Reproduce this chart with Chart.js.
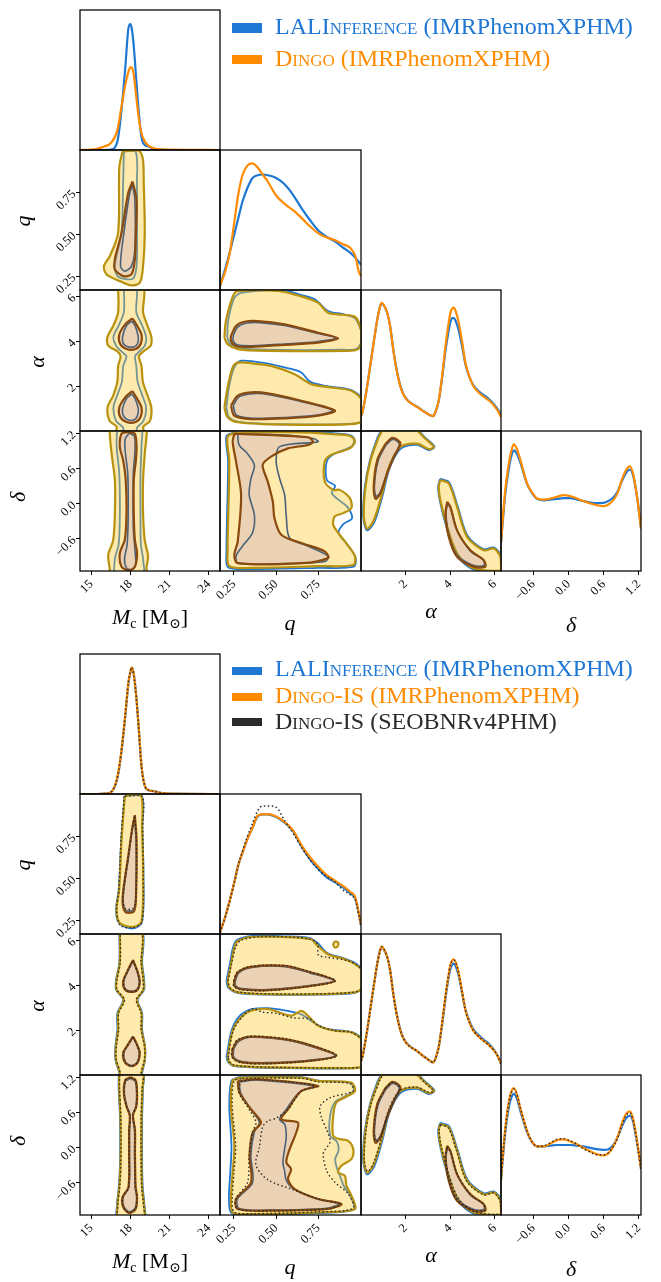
<!DOCTYPE html>
<html>
<head>
<meta charset="utf-8">
<script src="https://cdn.jsdelivr.net/npm/chart.js@4.4.1/dist/chart.umd.min.js"></script>
<style>
  body { margin: 0; background: #fff; width: 661px; height: 1282px; position: relative; overflow: hidden;
         font-family: "Liberation Serif", "DejaVu Serif", serif; }
  canvas { position: absolute; }
  .lab { position: absolute; font-size: 22px; line-height: 22px; white-space: nowrap; color: #000; }
  .lab i { font-style: italic; }
  .lab sub { font-size: 14px; vertical-align: -4px; line-height: 0; }
  .rot { transform: translate(-50%, -50%) rotate(-90deg); }
  .hc { transform: translateX(-50%); }
  .leg { position: absolute; left: 275px; font-size: 24px; line-height: 24px; white-space: nowrap; }
  .sc { font-variant: small-caps; }
  .patch { position: absolute; left: 232px; width: 30px; }
</style>
</head>
<body>
<script>
// ---- tick values / labels ----
const mcTicks = [15, 18, 21, 24];
const mcTickLabels = ['15', '18', '21', '24'];
const qTicks = [0.25, 0.5, 0.75];
const qTickLabels = ['0.25', '0.50', '0.75'];
const alphaTicks = [2, 4, 6];
const alphaTickLabels = ['2', '4', '6'];
const deltaTicks = [-0.6, 0, 0.6, 1.2];
const deltaTickLabels = ['\u22120.6', '0.0', '0.6', '1.2'];

// ---- 1D marginals (height as fraction of panel) ----
const mcGrid = [14.1, 15.0, 15.5, 16.0, 16.5, 17.0, 17.3, 17.6, 17.85, 18.0, 18.1, 18.25, 18.45, 18.65, 18.85, 19.1, 19.4, 19.8, 20.3, 21.0, 24.9];
const mcLalTop   = [0, 0, 0, 0, 0.003, 0.06, 0.27, 0.58, 0.87, 0.9, 0.87, 0.75, 0.5, 0.26, 0.09, 0.035, 0.025, 0.008, 0.002, 0, 0];
const mcDingoTop = [0, 0.002, 0.01, 0.025, 0.05, 0.14, 0.3, 0.46, 0.56, 0.59, 0.59, 0.54, 0.38, 0.22, 0.12, 0.06, 0.03, 0.012, 0.005, 0.002, 0];
const mcLalBot   = [0, 0, 0, 0.002, 0.012, 0.11, 0.29, 0.55, 0.79, 0.87, 0.9, 0.86, 0.7, 0.45, 0.2, 0.06, 0.027, 0.02, 0.008, 0.002, 0];
const mcDingoBot = [0, 0, 0, 0.002, 0.013, 0.12, 0.3, 0.56, 0.8, 0.875, 0.905, 0.86, 0.69, 0.46, 0.2, 0.06, 0.028, 0.02, 0.008, 0.002, 0];
const mcSeobBot  = [0, 0, 0, 0.002, 0.012, 0.12, 0.3, 0.56, 0.8, 0.88, 0.905, 0.85, 0.69, 0.45, 0.19, 0.06, 0.027, 0.019, 0.008, 0.002, 0];

const qGrid = [0.167, 0.2, 0.225, 0.25, 0.275, 0.3, 0.33, 0.36, 0.39, 0.42, 0.45, 0.5, 0.55, 0.6, 0.65, 0.7, 0.75, 0.8, 0.85, 0.9, 0.94, 0.97, 0.99, 1.003];
const qLalTop   = [0.03, 0.16, 0.27, 0.39, 0.51, 0.63, 0.73, 0.8, 0.82, 0.825, 0.82, 0.8, 0.755, 0.68, 0.585, 0.5, 0.425, 0.38, 0.345, 0.3, 0.265, 0.23, 0.2, 0.18];
const qDingoTop = [0.03, 0.14, 0.265, 0.47, 0.68, 0.82, 0.89, 0.905, 0.875, 0.825, 0.775, 0.675, 0.615, 0.57, 0.515, 0.455, 0.405, 0.375, 0.355, 0.325, 0.3, 0.24, 0.13, 0.1];
const qLalBot   = [0.01, 0.13, 0.24, 0.36, 0.49, 0.58, 0.68, 0.76, 0.84, 0.855, 0.855, 0.835, 0.795, 0.735, 0.625, 0.535, 0.465, 0.405, 0.37, 0.33, 0.29, 0.25, 0.14, 0.06];
const qDingoBot = [0.01, 0.13, 0.24, 0.36, 0.49, 0.58, 0.68, 0.76, 0.845, 0.855, 0.856, 0.84, 0.8, 0.74, 0.635, 0.55, 0.48, 0.42, 0.38, 0.34, 0.3, 0.26, 0.15, 0.065];
const qSeobBot  = [0.01, 0.13, 0.24, 0.36, 0.49, 0.59, 0.7, 0.79, 0.88, 0.915, 0.915, 0.905, 0.81, 0.72, 0.62, 0.53, 0.46, 0.41, 0.37, 0.31, 0.28, 0.24, 0.14, 0.06];

const alphaGrid = [0, 0.05, 0.25, 0.43, 0.6, 0.73, 0.85, 0.92, 1.0, 1.18, 1.3, 1.47, 1.6, 1.77, 1.9, 2.07, 2.3, 2.52, 2.75, 2.97, 3.1, 3.24, 3.35, 3.49, 3.65, 3.79, 3.9, 4.01, 4.1, 4.16, 4.25, 4.39, 4.55, 4.69, 4.9, 5.06, 5.3, 5.51, 5.75, 5.96, 6.15, 6.283];
const alphaLalTop   = [0.11, 0.124, 0.29, 0.48, 0.66, 0.79, 0.88, 0.905, 0.897, 0.835, 0.75, 0.555, 0.435, 0.318, 0.263, 0.222, 0.192, 0.172, 0.146, 0.124, 0.112, 0.105, 0.14, 0.215, 0.39, 0.57, 0.68, 0.77, 0.8, 0.8, 0.78, 0.71, 0.59, 0.47, 0.37, 0.32, 0.28, 0.255, 0.225, 0.19, 0.15, 0.11];
const alphaDingoTop = [0.11, 0.124, 0.29, 0.48, 0.66, 0.79, 0.88, 0.909, 0.9, 0.837, 0.75, 0.552, 0.43, 0.314, 0.26, 0.219, 0.19, 0.171, 0.145, 0.124, 0.112, 0.105, 0.14, 0.219, 0.4, 0.6, 0.73, 0.836, 0.87, 0.876, 0.85, 0.766, 0.62, 0.48, 0.37, 0.314, 0.27, 0.243, 0.215, 0.183, 0.14, 0.1];
const alphaLalBot   = [0.1, 0.12, 0.29, 0.48, 0.66, 0.79, 0.88, 0.905, 0.897, 0.835, 0.75, 0.555, 0.435, 0.318, 0.263, 0.222, 0.192, 0.17, 0.14, 0.115, 0.1, 0.09, 0.12, 0.2, 0.37, 0.54, 0.66, 0.75, 0.785, 0.79, 0.77, 0.7, 0.57, 0.46, 0.37, 0.32, 0.28, 0.25, 0.22, 0.18, 0.13, 0.08];
const alphaDingoBot = [0.1, 0.12, 0.29, 0.48, 0.66, 0.79, 0.88, 0.91, 0.9, 0.837, 0.75, 0.552, 0.43, 0.314, 0.26, 0.219, 0.19, 0.17, 0.14, 0.115, 0.1, 0.09, 0.12, 0.2, 0.38, 0.56, 0.68, 0.78, 0.815, 0.82, 0.8, 0.72, 0.58, 0.46, 0.36, 0.31, 0.27, 0.24, 0.21, 0.175, 0.13, 0.08];
const alphaSeobBot  = [0.1, 0.12, 0.29, 0.48, 0.66, 0.79, 0.88, 0.91, 0.9, 0.835, 0.75, 0.55, 0.43, 0.314, 0.26, 0.219, 0.19, 0.17, 0.14, 0.115, 0.1, 0.09, 0.12, 0.2, 0.38, 0.56, 0.68, 0.78, 0.81, 0.815, 0.8, 0.72, 0.58, 0.46, 0.36, 0.31, 0.27, 0.24, 0.21, 0.175, 0.13, 0.08];

const deltaGrid = [-1.153, -1.133, -1.08, -1.02, -0.97, -0.935, -0.88, -0.82, -0.707, -0.62, -0.537, -0.42, -0.31, -0.2, -0.085, 0.03, 0.143, 0.25, 0.369, 0.48, 0.595, 0.68, 0.765, 0.84, 0.908, 0.98, 1.05, 1.1, 1.134, 1.18, 1.237];
const deltaLalTop   = [0.2, 0.3, 0.55, 0.73, 0.83, 0.862, 0.835, 0.77, 0.62, 0.555, 0.515, 0.505, 0.51, 0.515, 0.52, 0.52, 0.51, 0.5, 0.49, 0.485, 0.487, 0.5, 0.525, 0.57, 0.64, 0.7, 0.725, 0.685, 0.62, 0.5, 0.31];
const deltaDingoTop = [0.2, 0.316, 0.58, 0.768, 0.87, 0.905, 0.87, 0.79, 0.625, 0.56, 0.518, 0.51, 0.518, 0.53, 0.542, 0.535, 0.518, 0.5, 0.483, 0.47, 0.463, 0.475, 0.506, 0.56, 0.649, 0.72, 0.748, 0.7, 0.625, 0.5, 0.3];
const deltaLalBot   = [0.25, 0.35, 0.59, 0.77, 0.845, 0.865, 0.83, 0.74, 0.59, 0.52, 0.49, 0.49, 0.495, 0.5, 0.5, 0.5, 0.495, 0.49, 0.48, 0.47, 0.465, 0.47, 0.5, 0.56, 0.63, 0.69, 0.71, 0.67, 0.6, 0.49, 0.33];
const deltaDingoBot = [0.25, 0.366, 0.62, 0.81, 0.89, 0.907, 0.86, 0.76, 0.6, 0.52, 0.49, 0.49, 0.51, 0.535, 0.54, 0.525, 0.505, 0.48, 0.455, 0.435, 0.425, 0.44, 0.49, 0.56, 0.65, 0.72, 0.74, 0.69, 0.62, 0.5, 0.33];
const deltaSeobBot  = [0.25, 0.36, 0.61, 0.8, 0.88, 0.9, 0.86, 0.76, 0.6, 0.52, 0.49, 0.495, 0.515, 0.54, 0.545, 0.53, 0.505, 0.475, 0.45, 0.43, 0.43, 0.445, 0.49, 0.55, 0.64, 0.71, 0.73, 0.68, 0.61, 0.49, 0.33];

// ---- 2D credible contours (x, y in data units) ----
// top figure
const mcqGold = [[17.4,0.995],[17.15,0.9],[17.06,0.51],[16.43,0.37],[15.97,0.31],[16.18,0.26],[17.19,0.22],[18.08,0.195],[18.72,0.21],[18.97,0.31],[19.1,0.51],[19.02,0.81],[18.95,0.95],[18.6,1.0]];
const mcqBrown = [[18.16,0.815],[18.47,0.707],[18.42,0.508],[18.34,0.35],[18.08,0.26],[17.44,0.25],[16.81,0.29],[16.81,0.35],[17.32,0.508],[17.83,0.746]];
const mcqBlueOut = [[17.5,0.995],[17.44,0.8],[17.32,0.508],[16.81,0.31],[17.0,0.25],[17.44,0.235],[18.2,0.235],[18.47,0.31],[18.51,0.508],[18.5,0.8],[18.4,0.995]];
const mcqBlueIn = [[18.16,0.795],[18.34,0.707],[18.34,0.41],[18.08,0.31],[17.57,0.28],[17.24,0.31],[17.5,0.508],[17.95,0.746]];

const mcaGold = [[17.06,6.4],[17.06,5.3],[16.7,4.7],[16.25,4.2],[16.3,3.8],[17.0,3.55],[17.25,3.33],[17.06,2.9],[17.0,2.2],[16.7,1.6],[16.25,1.05],[16.4,0.45],[16.94,0.2],[16.94,-0.1],[18.97,-0.1],[19.0,0.2],[19.5,0.45],[19.6,1.05],[19.3,1.6],[18.95,2.2],[18.85,2.9],[18.65,3.33],[19.0,3.55],[19.55,3.8],[19.6,4.2],[19.3,4.7],[18.97,5.3],[18.97,6.4]];
const mcaBrownUp = [[18.15,5.02],[18.45,4.75],[18.85,4.3],[18.8,3.9],[18.4,3.65],[17.7,3.65],[17.2,3.9],[17.15,4.3],[17.6,4.75]];
const mcaBrownLow = [[18.15,1.78],[18.45,1.5],[18.85,1.05],[18.8,0.65],[18.4,0.4],[17.7,0.4],[17.2,0.65],[17.15,1.05],[17.6,1.5]];
const mcaBlueOut = [[17.5,6.4],[17.5,5.3],[17.1,4.7],[16.7,4.2],[16.9,3.8],[17.4,3.5],[17.7,3.33],[17.45,2.9],[17.35,2.2],[17.0,1.6],[16.7,1.05],[16.9,0.45],[17.45,0.15],[17.45,-0.1],[18.45,-0.1],[18.5,0.15],[19.0,0.45],[19.2,1.05],[18.9,1.6],[18.55,2.2],[18.45,2.9],[18.35,3.33],[18.6,3.5],[19.1,3.8],[19.2,4.2],[18.9,4.7],[18.45,5.3],[18.45,6.4]];
const mcaBlueInUp = [[18.1,4.9],[18.35,4.7],[18.6,4.2],[18.55,3.9],[18.3,3.75],[17.8,3.75],[17.45,3.9],[17.4,4.2],[17.7,4.7]];
const mcaBlueInLow = [[18.1,1.65],[18.35,1.45],[18.6,1.0],[18.55,0.7],[18.3,0.5],[17.8,0.5],[17.45,0.7],[17.4,1.0],[17.7,1.45]];

const mcdGold = [[16.4,1.3],[16.43,1.15],[16.56,0.85],[16.81,0.4],[16.81,-0.17],[16.68,-0.63],[16.3,-0.88],[16.43,-1.13],[16.5,-1.25],[19.2,-1.25],[19.23,-1.1],[19.35,-0.9],[19.1,-0.63],[18.97,-0.17],[18.97,0.4],[19.1,0.85],[19.23,1.15],[19.2,1.3]];
const mcdBrown = [[17.8,1.22],[17.32,1.19],[17.19,0.96],[17.44,0.74],[17.64,0.4],[17.7,-0.17],[17.57,-0.62],[17.19,-0.85],[17.32,-1.08],[17.9,-1.14],[18.34,-1.08],[18.51,-0.85],[18.34,-0.62],[18.26,-0.17],[18.26,0.4],[18.42,0.74],[18.47,0.96],[18.34,1.19]];
const mcdBlueOut = [[17.0,1.3],[16.94,1.0],[17.15,0.5],[17.19,-0.2],[17.1,-0.7],[16.81,-0.95],[16.9,-1.25],[18.95,-1.25],[18.97,-0.95],[18.8,-0.7],[18.77,-0.2],[18.77,0.5],[18.85,1.0],[18.8,1.3]];
const mcdBlueIn = [[17.9,1.2],[17.6,1.1],[17.6,0.9],[17.8,0.5],[17.83,-0.2],[17.75,-0.7],[17.55,-0.95],[17.7,-1.1],[18.1,-1.13],[18.4,-1.05],[18.35,-0.8],[18.22,-0.4],[18.22,0.5],[18.35,0.9],[18.3,1.15]];

const qaGoldUp = [[0.193,4.16],[0.202,4.9],[0.242,5.98],[0.272,6.24],[0.51,6.24],[0.649,6.0],[0.748,5.72],[0.808,5.27],[0.867,5.2],[0.957,5.12],[0.986,4.9],[1.01,4.16],[0.986,3.65],[0.907,3.57],[0.45,3.57],[0.272,3.65],[0.212,3.87]];
const qaBrownUp = [[0.232,4.24],[0.262,4.68],[0.312,4.87],[0.391,4.9],[0.55,4.75],[0.748,4.38],[0.867,4.13],[0.748,3.94],[0.55,3.84],[0.351,3.75],[0.262,3.79],[0.232,4.01]];
const qaBlueOutUp = [[0.21,4.16],[0.215,4.9],[0.25,5.9],[0.29,6.15],[0.53,6.3],[0.63,6.1],[0.729,5.87],[0.808,5.35],[0.9,5.2],[0.97,5.0],[1.01,4.16],[0.98,3.68],[0.9,3.62],[0.45,3.62],[0.28,3.7],[0.225,3.9]];
const qaBlueInUp = [[0.245,4.24],[0.27,4.62],[0.32,4.8],[0.4,4.83],[0.55,4.7],[0.74,4.36],[0.855,4.15],[0.74,3.98],[0.55,3.88],[0.36,3.8],[0.27,3.84],[0.245,4.02]];
const qaGoldLow = [[0.193,1.05],[0.212,1.94],[0.242,2.83],[0.272,3.05],[0.391,2.98],[0.47,2.9],[0.61,2.53],[0.708,2.09],[0.827,1.94],[0.946,1.79],[1.01,1.35],[1.01,0.46],[0.946,0.31],[0.55,0.28],[0.272,0.39],[0.212,0.61]];
const qaBrownLow = [[0.232,1.13],[0.272,1.57],[0.351,1.72],[0.45,1.68],[0.649,1.35],[0.848,0.91],[0.748,0.68],[0.55,0.56],[0.351,0.53],[0.252,0.68]];
const qaBlueOutLow = [[0.205,1.05],[0.22,1.94],[0.25,2.8],[0.292,3.13],[0.45,3.0],[0.55,2.83],[0.649,2.61],[0.7,2.2],[0.8,2.0],[0.946,1.82],[1.01,1.4],[1.01,0.46],[0.946,0.33],[0.55,0.3],[0.28,0.41],[0.22,0.62]];
const qaBlueInLow = [[0.245,1.13],[0.28,1.52],[0.36,1.66],[0.45,1.63],[0.64,1.33],[0.835,0.92],[0.74,0.71],[0.55,0.6],[0.36,0.57],[0.265,0.7]];

const qdGold = [[0.272,1.215],[0.649,1.215],[0.907,1.17],[0.946,1.14],[0.967,1.055],[0.937,0.94],[0.827,0.83],[0.788,0.715],[0.788,0.374],[0.838,0.232],[0.877,0.232],[0.937,0.09],[0.946,-0.08],[0.897,-0.165],[0.848,-0.22],[0.838,-0.36],[0.867,-0.5],[0.917,-0.68],[0.967,-0.9],[0.957,-1.05],[0.748,-1.07],[0.351,-1.1],[0.222,-1.07],[0.212,-0.82],[0.222,0.715],[0.212,1.14]];
const qdBrown = [[0.252,1.19],[0.689,1.13],[0.718,1.055],[0.689,0.998],[0.57,0.94],[0.47,0.8],[0.42,0.658],[0.45,0.374],[0.48,0.033],[0.49,-0.25],[0.53,-0.534],[0.649,-0.676],[0.788,-0.818],[0.808,-0.93],[0.649,-1.02],[0.272,-1.02],[0.252,-0.88],[0.272,-0.65],[0.292,0.147],[0.262,0.715],[0.242,1.055]];
const qdBlueOut = [[0.26,1.22],[0.65,1.225],[0.92,1.18],[0.96,1.12],[0.95,0.98],[0.84,0.84],[0.8,0.72],[0.8,0.4],[0.85,0.3],[0.83,0.18],[0.87,0.06],[0.92,-0.05],[0.95,-0.25],[0.9,-0.35],[0.87,-0.5],[0.92,-0.7],[0.97,-0.92],[0.96,-1.08],[0.75,-1.1],[0.35,-1.12],[0.215,-1.09],[0.205,-0.82],[0.215,0.715],[0.205,1.15]];
const qdBlueIn = [[0.272,1.19],[0.55,1.17],[0.72,1.11],[0.748,1.055],[0.52,0.97],[0.5,0.715],[0.52,0.43],[0.55,0.147],[0.56,-0.22],[0.58,-0.59],[0.689,-0.73],[0.808,-0.9],[0.79,-0.99],[0.5,-1.03],[0.272,-1.02],[0.262,-0.9],[0.3,-0.73],[0.36,-0.5],[0.371,-0.2],[0.34,0.147],[0.351,0.43],[0.371,0.65],[0.33,0.85],[0.28,1.0]];

const adGoldUp = [[0.8,1.14],[1.1,1.3],[2.3,1.3],[2.9,1.1],[3.27,0.964],[3.04,0.93],[2.52,1.02],[1.77,0.964],[1.25,0.62],[0.95,0.17],[0.57,-0.29],[0.28,-0.43],[0.13,-0.23],[0.2,0.28],[0.43,0.74]];
const adBrownUp = [[1.1,1.02],[1.4,1.12],[1.62,1.09],[1.77,1.02],[1.47,0.79],[1.17,0.51],[0.87,0.17],[0.65,0.08],[0.57,0.28],[0.73,0.74]];
const adBlueOutUp = [[0.75,1.14],[1.05,1.3],[2.3,1.31],[2.95,1.1],[3.3,0.97],[3.04,0.91],[2.52,1.0],[1.8,0.94],[1.28,0.6],[0.98,0.15],[0.6,-0.32],[0.27,-0.46],[0.1,-0.23],[0.17,0.28],[0.4,0.74]];
const adBlueInUp = [[1.12,1.0],[1.4,1.09],[1.6,1.07],[1.72,1.0],[1.44,0.78],[1.15,0.5],[0.87,0.2],[0.68,0.12],[0.6,0.28],[0.76,0.72]];
const adGoldLow = [[3.56,0.4],[3.94,0.34],[4.31,-0.06],[4.76,-0.57],[5.51,-0.8],[5.96,-0.77],[6.26,-0.91],[6.3,-1.14],[5.51,-1.14],[4.91,-1.08],[4.31,-0.85],[3.87,-0.4],[3.56,0.06],[3.49,0.29]];
const adBrownLow = [[3.87,0.03],[4.01,-0.06],[4.31,-0.46],[4.91,-0.8],[5.51,-0.97],[5.58,-1.08],[5.06,-1.08],[4.31,-0.91],[3.94,-0.57],[3.79,-0.17]];
const adBlueOutLow = [[3.55,0.42],[3.96,0.36],[4.34,-0.05],[4.78,-0.55],[5.5,-0.78],[5.96,-0.75],[6.3,-0.9],[6.32,-1.16],[5.5,-1.16],[4.9,-1.1],[4.28,-0.87],[3.84,-0.41],[3.53,0.06],[3.46,0.29]];
const adBlueInLow = [[3.89,0.0],[4.03,-0.08],[4.33,-0.47],[4.9,-0.81],[5.48,-0.96],[5.52,-1.06],[5.06,-1.06],[4.33,-0.89],[3.96,-0.56],[3.81,-0.17]];

// bottom figure
const mcqGoldB = [[17.57,0.99],[17.32,0.729],[17.14,0.431],[16.94,0.312],[17.19,0.233],[18.2,0.209],[18.85,0.242],[18.97,0.53],[18.9,0.8],[18.85,0.99],[18.2,1.0]];
const mcqBrownB = [[18.34,0.877],[18.47,0.729],[18.42,0.371],[18.25,0.3],[17.6,0.3],[17.4,0.38],[17.83,0.63],[18.16,0.808]];
const mcqBlueOutB = [[17.55,0.99],[17.3,0.73],[17.1,0.43],[16.9,0.31],[17.15,0.23],[18.2,0.2],[18.9,0.24],[19.0,0.53],[18.92,0.8],[18.88,0.99]];
const mcqBlueInB = [[18.3,0.86],[18.44,0.72],[18.4,0.38],[18.22,0.31],[17.62,0.31],[17.45,0.39],[17.86,0.63],[18.15,0.8]];
const mcqSeobOutB = [[17.52,0.99],[17.28,0.73],[17.12,0.43],[16.95,0.32],[17.2,0.22],[18.2,0.205],[18.88,0.24],[18.99,0.53],[18.93,0.8],[18.9,0.99]];
const mcqSeobInB = [[18.33,0.87],[18.46,0.73],[18.41,0.37],[18.2,0.32],[17.6,0.32],[17.42,0.39],[17.84,0.63],[18.16,0.8]];

const mcaGoldB = [[17.19,6.4],[17.19,5.0],[16.94,4.24],[16.94,3.8],[17.5,3.35],[17.06,2.76],[17.06,2.02],[16.89,1.28],[16.89,0.69],[17.19,0.1],[17.19,-0.1],[18.85,-0.1],[18.85,0.1],[19.1,0.69],[19.1,1.28],[18.85,2.02],[18.85,2.76],[18.5,3.35],[19.0,3.8],[19.0,4.24],[18.85,5.0],[18.85,6.4]];
const mcaBlueOutB = [[17.15,6.4],[17.15,5.0],[16.9,4.24],[16.9,3.8],[17.45,3.35],[17.0,2.76],[17.0,2.02],[16.85,1.28],[16.85,0.69],[17.15,0.1],[17.15,-0.1],[18.9,-0.1],[18.9,0.1],[19.12,0.69],[19.12,1.28],[18.9,2.02],[18.9,2.76],[18.55,3.35],[19.05,3.8],[19.05,4.24],[18.9,5.0],[18.9,6.4]];
const mcaSeobOutB = [[17.22,6.4],[17.22,5.0],[16.97,4.24],[16.97,3.8],[17.55,3.35],[17.1,2.76],[17.1,2.02],[16.92,1.28],[16.92,0.69],[17.22,0.1],[17.22,-0.1],[18.82,-0.1],[18.82,0.1],[19.07,0.69],[19.07,1.28],[18.82,2.02],[18.82,2.76],[18.45,3.35],[18.97,3.8],[18.97,4.24],[18.82,5.0],[18.82,6.4]];
const mcaBrownUpB = [[18.2,5.13],[18.55,4.6],[18.72,4.15],[18.55,3.8],[18.1,3.7],[17.6,3.8],[17.44,4.15],[17.75,4.6]];
const mcaBrownLowB = [[18.2,1.72],[18.55,1.3],[18.72,0.98],[18.55,0.55],[18.1,0.39],[17.6,0.55],[17.44,0.98],[17.75,1.3]];
const mcaBlueInUpB = [[18.2,5.08],[18.52,4.6],[18.68,4.15],[18.52,3.82],[18.1,3.73],[17.63,3.82],[17.48,4.15],[17.78,4.6]];
const mcaBlueInLowB = [[18.2,1.68],[18.52,1.3],[18.68,0.98],[18.52,0.57],[18.1,0.42],[17.63,0.57],[17.48,0.98],[17.78,1.3]];
const mcaSeobInUpB = [[18.2,5.1],[18.54,4.6],[18.71,4.15],[18.54,3.8],[18.1,3.71],[17.61,3.8],[17.46,4.15],[17.76,4.6]];
const mcaSeobInLowB = [[18.2,1.7],[18.54,1.3],[18.71,0.98],[18.54,0.56],[18.1,0.4],[17.61,0.56],[17.46,0.98],[17.76,1.3]];

const mcdGoldB = [[17.14,1.3],[17.14,1.0],[17.24,0.5],[17.24,-0.3],[17.14,-0.7],[17.02,-0.95],[17.1,-1.25],[19.0,-1.25],[19.02,-0.95],[18.9,-0.7],[18.85,-0.3],[18.85,0.5],[18.92,1.0],[18.92,1.3]];
const mcdBlueOutB = [[17.1,1.3],[17.1,1.0],[17.2,0.5],[17.2,-0.3],[17.1,-0.7],[16.98,-0.95],[17.05,-1.25],[19.05,-1.25],[19.06,-0.95],[18.95,-0.7],[18.9,-0.3],[18.9,0.5],[18.96,1.0],[18.96,1.3]];
const mcdSeobOutB = [[17.17,1.3],[17.17,1.0],[17.27,0.5],[17.27,-0.3],[17.17,-0.7],[17.05,-0.95],[17.12,-1.25],[18.97,-1.25],[18.99,-0.95],[18.87,-0.7],[18.82,-0.3],[18.82,0.5],[18.9,1.0],[18.9,1.3]];
const mcdBrownB = [[18.0,1.2],[17.6,1.15],[17.5,0.914],[17.7,0.7],[17.95,0.545],[17.9,0.3],[17.9,-0.1],[17.85,-0.676],[17.4,-0.846],[17.45,-1.02],[17.9,-1.12],[18.4,-1.05],[18.51,-0.846],[18.4,-0.676],[18.35,-0.1],[18.35,0.3],[18.2,0.545],[18.45,0.7],[18.51,0.914],[18.4,1.15]];
const mcdBlueInB = [[18.0,1.18],[17.63,1.13],[17.54,0.914],[17.73,0.7],[17.97,0.55],[17.93,0.3],[17.93,-0.1],[17.88,-0.68],[17.44,-0.85],[17.48,-1.0],[17.9,-1.1],[18.37,-1.03],[18.48,-0.85],[18.37,-0.68],[18.32,-0.1],[18.32,0.3],[18.18,0.55],[18.42,0.7],[18.48,0.914],[18.37,1.13]];
const mcdSeobInB = [[18.0,1.19],[17.61,1.14],[17.52,0.91],[17.71,0.7],[17.96,0.55],[17.91,0.3],[17.91,-0.1],[17.86,-0.68],[17.42,-0.85],[17.46,-1.01],[17.9,-1.11],[18.39,-1.04],[18.5,-0.85],[18.39,-0.68],[18.34,-0.1],[18.34,0.3],[18.19,0.55],[18.44,0.7],[18.5,0.91],[18.39,1.14]];

const qaGoldUpB = [[0.212,4.2],[0.232,4.94],[0.252,5.68],[0.272,5.97],[0.351,6.15],[0.55,6.15],[0.708,6.05],[0.738,5.82],[0.808,5.38],[0.907,5.16],[0.967,4.94],[1.01,4.64],[1.01,3.9],[0.967,3.68],[0.748,3.6],[0.45,3.6],[0.272,3.68],[0.222,3.9]];
const qaGoldIslandB = [[0.85,5.97],[0.868,5.9],[0.866,5.74],[0.85,5.68],[0.838,5.82]];
const qaBrownUpB = [[0.252,4.2],[0.272,4.57],[0.351,4.82],[0.55,4.86],[0.708,4.57],[0.848,4.2],[0.708,3.97],[0.45,3.78],[0.292,3.82],[0.252,3.97]];
const qaBlueOutUpB = [[0.205,4.2],[0.225,4.94],[0.245,5.7],[0.27,6.02],[0.36,6.2],[0.55,6.18],[0.7,6.1],[0.75,5.85],[0.8,5.45],[0.9,5.2],[0.97,4.98],[1.01,4.64],[1.01,3.9],[0.967,3.66],[0.748,3.58],[0.45,3.58],[0.27,3.66],[0.215,3.9]];
const qaSeobOutUpB = [[0.215,4.2],[0.235,4.94],[0.26,5.7],[0.29,6.0],[0.4,6.16],[0.6,6.14],[0.7,6.05],[0.745,5.85],[0.75,5.35],[0.8,5.25],[0.92,5.1],[0.98,4.9],[1.01,4.64],[1.01,3.9],[0.967,3.7],[0.748,3.62],[0.45,3.62],[0.275,3.7],[0.225,3.9]];
const qaBlueInUpB = [[0.258,4.2],[0.278,4.55],[0.355,4.79],[0.55,4.83],[0.7,4.55],[0.84,4.2],[0.7,3.99],[0.45,3.81],[0.295,3.85],[0.258,3.99]];
const qaSeobInUpB = [[0.248,4.2],[0.268,4.58],[0.35,4.84],[0.55,4.88],[0.71,4.58],[0.852,4.2],[0.71,3.96],[0.45,3.76],[0.29,3.8],[0.248,3.96]];
const qaGoldLowB = [[0.212,0.79],[0.242,1.97],[0.292,2.57],[0.351,2.86],[0.45,2.94],[0.589,2.64],[0.649,2.86],[0.689,2.64],[0.748,2.2],[0.848,1.97],[0.946,1.9],[1.01,1.53],[1.01,0.42],[0.946,0.31],[0.45,0.34],[0.252,0.42],[0.222,0.57]];
const qaBrownLowB = [[0.242,1.16],[0.272,1.53],[0.351,1.71],[0.55,1.6],[0.708,1.31],[0.857,0.86],[0.708,0.64],[0.45,0.52],[0.292,0.57],[0.242,0.79]];
const qaBlueOutLowB = [[0.205,0.79],[0.235,1.97],[0.28,2.6],[0.351,2.92],[0.45,2.98],[0.55,2.88],[0.649,2.7],[0.72,2.35],[0.8,2.05],[0.946,1.92],[1.01,1.56],[1.01,0.42],[0.946,0.3],[0.45,0.32],[0.25,0.4],[0.215,0.57]];
const qaSeobOutLowB = [[0.215,0.79],[0.245,1.97],[0.3,2.6],[0.36,2.95],[0.42,2.8],[0.5,2.75],[0.6,2.55],[0.7,2.5],[0.75,2.2],[0.85,1.97],[0.946,1.9],[1.01,1.5],[1.01,0.42],[0.946,0.32],[0.45,0.35],[0.255,0.43],[0.225,0.58]];
const qaBlueInLowB = [[0.248,1.16],[0.278,1.5],[0.355,1.68],[0.55,1.57],[0.7,1.29],[0.848,0.87],[0.7,0.66],[0.45,0.55],[0.296,0.6],[0.248,0.8]];
const qaSeobInLowB = [[0.238,1.16],[0.268,1.55],[0.35,1.73],[0.55,1.62],[0.71,1.33],[0.86,0.86],[0.71,0.63],[0.45,0.5],[0.29,0.55],[0.238,0.79]];

const qdGoldB = [[0.292,1.192],[0.649,1.192],[0.748,1.136],[0.946,1.107],[0.967,0.965],[0.907,0.852],[0.857,0.767],[0.838,0.54],[0.838,0.2],[0.877,0.142],[0.927,0.114],[0.957,-0.03],[0.946,-0.2],[0.887,-0.312],[0.867,-0.426],[0.907,-0.482],[0.917,-0.653],[0.946,-0.823],[0.967,-1.05],[0.748,-1.107],[0.351,-1.136],[0.242,-1.107],[0.232,-0.88],[0.242,-0.426],[0.252,0.028],[0.232,0.71],[0.242,1.136]];
const qdBrownB = [[0.272,1.136],[0.391,1.164],[0.748,1.05],[0.649,0.965],[0.57,0.652],[0.53,0.482],[0.629,0.426],[0.619,0.256],[0.58,-0.029],[0.56,-0.256],[0.589,-0.369],[0.57,-0.54],[0.61,-0.71],[0.748,-0.88],[0.887,-0.966],[0.808,-1.05],[0.45,-1.08],[0.272,-1.05],[0.262,-0.88],[0.351,-0.596],[0.342,-0.142],[0.361,0.256],[0.41,0.426],[0.351,0.652],[0.282,0.937]];
const qdBlueOutB = [[0.28,1.2],[0.65,1.2],[0.75,1.14],[0.94,1.1],[0.96,0.97],[0.9,0.86],[0.85,0.78],[0.82,0.55],[0.82,0.2],[0.86,0.1],[0.87,-0.05],[0.85,-0.2],[0.86,-0.35],[0.88,-0.5],[0.9,-0.65],[0.94,-0.83],[0.96,-1.06],[0.748,-1.12],[0.351,-1.15],[0.235,-1.12],[0.22,-0.88],[0.228,-0.426],[0.235,0.028],[0.222,0.71],[0.235,1.14]];
const qdSeobOutB = [[0.3,1.18],[0.65,1.18],[0.75,1.12],[0.94,1.09],[0.955,0.96],[0.82,0.85],[0.76,0.7],[0.77,0.5],[0.8,0.3],[0.82,0.1],[0.78,-0.1],[0.8,-0.4],[0.85,-0.6],[0.93,-0.8],[0.955,-1.04],[0.748,-1.1],[0.351,-1.13],[0.25,-1.1],[0.24,-0.88],[0.25,-0.426],[0.26,0.028],[0.24,0.71],[0.25,1.13]];
const qdBlueInB = [[0.28,1.12],[0.4,1.15],[0.73,1.04],[0.64,0.95],[0.56,0.65],[0.52,0.48],[0.55,0.4],[0.56,0.2],[0.55,-0.03],[0.54,-0.26],[0.55,-0.4],[0.56,-0.56],[0.6,-0.7],[0.74,-0.87],[0.87,-0.96],[0.8,-1.04],[0.45,-1.07],[0.28,-1.04],[0.27,-0.88],[0.36,-0.6],[0.35,-0.14],[0.37,0.26],[0.4,0.43],[0.35,0.65],[0.29,0.93]];
const qdSeobInB = [[0.29,1.13],[0.4,1.16],[0.74,1.05],[0.65,0.96],[0.57,0.65],[0.5,0.5],[0.45,0.45],[0.42,0.35],[0.4,0.0],[0.38,-0.3],[0.45,-0.55],[0.6,-0.72],[0.75,-0.88],[0.88,-0.97],[0.8,-1.05],[0.45,-1.08],[0.27,-1.05],[0.26,-0.88],[0.33,-0.6],[0.34,-0.14],[0.36,0.26],[0.38,0.43],[0.34,0.65],[0.28,0.94]];

const adSeobOutUpB = [[0.82,1.13],[1.12,1.29],[2.3,1.29],[2.88,1.1],[3.25,0.965],[3.04,0.94],[2.52,1.03],[1.76,0.975],[1.23,0.63],[0.93,0.18],[0.56,-0.27],[0.3,-0.41],[0.15,-0.22],[0.22,0.28],[0.45,0.74]];
const adSeobInUpB = [[1.11,1.01],[1.4,1.11],[1.61,1.08],[1.75,1.01],[1.46,0.79],[1.16,0.51],[0.87,0.18],[0.66,0.1],[0.58,0.28],[0.74,0.73]];
const adSeobOutLowB = [[3.57,0.39],[3.93,0.33],[4.3,-0.07],[4.75,-0.58],[5.51,-0.81],[5.96,-0.78],[6.25,-0.92],[6.29,-1.13],[5.51,-1.13],[4.92,-1.07],[4.32,-0.84],[3.88,-0.39],[3.58,0.06],[3.51,0.29]];
const adSeobInLowB = [[3.88,0.02],[4.02,-0.07],[4.32,-0.46],[4.91,-0.8],[5.5,-0.97],[5.56,-1.07],[5.06,-1.07],[4.32,-0.9],[3.95,-0.57],[3.8,-0.17]];

// ---- look ----
const FONT = '"Liberation Serif", "DejaVu Serif", serif';
const BLUE = '#1f77d4', ORANGE = '#ff8c00', DARK = '#2b2b2b';
const MARGIN = 70;
const COL_X = [80, 220, 361, 501];
const COL_W = [140, 141, 140, 140];
const ROW_Y = [10, 150, 290, 431];
const ROW_H = [140, 140, 141, 140];
const FIG_SHIFT = [0, 644];

const axes = {
  mc:    { min: 14.14, max: 24.86, ticks: mcTicks, labels: mcTickLabels },
  q:     { min: 0.167, max: 1.003, ticks: qTicks, labels: qTickLabels },
  alpha: { min: 0, max: 6.283, ticks: alphaTicks, labels: alphaTickLabels },
  delta: { min: -1.153, max: 1.237, ticks: deltaTicks, labels: deltaTickLabels },
};
const params = ['mc', 'q', 'alpha', 'delta'];

// each contour kind becomes one or two layers; lower rank is drawn on top
const LAYERS = {
  seobIn:  [{ rank: 0, fill: false, borderColor: DARK, borderWidth: 1.4, borderDash: [1.5, 2.5] }],
  seobOut: [{ rank: 0.5, fill: false, borderColor: DARK, borderWidth: 1.4, borderDash: [1.5, 2.5] }],
  brown:   [{ rank: 1, fill: false, borderColor: '#8a4a0e', borderWidth: 2.2 },
            { rank: 3, fill: 'shape', backgroundColor: 'rgba(208,174,190,0.4)', borderWidth: 0 }],
  blueIn:  [{ rank: 2, fill: false, borderColor: '#4a6278', borderWidth: 1.6 }],
  gold:    [{ rank: 2.5, fill: false, borderColor: '#b8920f', borderWidth: 2.2 },
            { rank: 4, fill: 'shape', backgroundColor: 'rgba(255,200,40,0.38)', borderWidth: 0 }],
  blueOut: [{ rank: 5, fill: false, borderColor: BLUE, borderWidth: 1.8 }],
};

const framePlugin = {
  id: 'frame',
  afterDraw(chart) {
    const { ctx, chartArea: a } = chart;
    ctx.save();
    ctx.strokeStyle = '#000';
    ctx.lineWidth = 1.25;
    ctx.strokeRect(a.left, a.top, a.right - a.left, a.bottom - a.top);
    ctx.restore();
  }
};

function makeCanvas(fig, row, col) {
  const c = document.createElement('canvas');
  const w = COL_W[col] + 2 * MARGIN, h = ROW_H[row] + 2 * MARGIN;
  c.width = w; c.height = h;
  c.style.left = (COL_X[col] - MARGIN) + 'px';
  c.style.top = (ROW_Y[row] + FIG_SHIFT[fig] - MARGIN) + 'px';
  c.style.width = w + 'px'; c.style.height = h + 'px';
  document.body.appendChild(c);
  return c;
}

function scaleOpts(key, show, isX) {
  const ax = axes[key];
  return {
    type: 'linear', min: ax.min, max: ax.max, display: show,
    position: isX ? 'bottom' : 'left',
    afterFit: s => {
      if (!show) return;
      if (isX) s.height = MARGIN; else s.width = MARGIN;
    },
    afterBuildTicks: s => { s.ticks = ax.ticks.map(v => ({ value: v })); },
    ticks: {
      autoSkip: false, minRotation: 45, maxRotation: 45, padding: 2, color: '#000',
      font: { family: FONT, size: 12.5 },
      callback: (v, i) => ax.labels[i]
    },
    grid: { display: true, drawOnChartArea: false, drawTicks: true, tickLength: 4, tickWidth: 1, color: '#000' },
    border: { display: false }
  };
}

function drawPanel(fig, row, col, datasets) {
  const showX = row === 3, showY = col === 0 && row > 0;
  const xKey = params[col], yKey = row === col ? null : params[row];
  new Chart(makeCanvas(fig, row, col), {
    type: 'line',
    data: { datasets },
    options: {
      responsive: false, animation: false, devicePixelRatio: 1, events: [],
      layout: { padding: { left: showY ? 0 : MARGIN, right: MARGIN, top: MARGIN, bottom: showX ? 0 : MARGIN } },
      scales: {
        x: scaleOpts(xKey, showX, true),
        y: yKey ? scaleOpts(yKey, showY, false) : { type: 'linear', min: 0, max: 1, display: false }
      },
      plugins: { legend: { display: false }, tooltip: { enabled: false } },
      elements: { point: { radius: 0 } }
    },
    plugins: [framePlugin]
  });
}

function curve(grid, ys, color, dashed) {
  return {
    data: grid.map((x, i) => ({ x, y: ys[i] })),
    borderColor: color, borderWidth: dashed ? 1.5 : 2.2,
    borderDash: dashed ? [1.5, 2.5] : [],
    cubicInterpolationMode: 'monotone', fill: false, pointRadius: 0, clip: 0
  };
}

function contours(layers) {
  const sets = [];
  layers.forEach(([poly, kind]) => {
    const pts = poly.concat([poly[0]]).map(([x, y]) => ({ x, y }));
    LAYERS[kind].forEach(({ rank, ...st }) => {
      sets.push(Object.assign({ rank, data: pts, pointRadius: 0, tension: 0.3, clip: 0 }, st));
    });
  });
  return sets.sort((a, b) => a.rank - b.rank);
}

// ---- top figure ----
drawPanel(0, 0, 0, [curve(mcGrid, mcDingoTop, ORANGE), curve(mcGrid, mcLalTop, BLUE)]);
drawPanel(0, 1, 1, [curve(qGrid, qDingoTop, ORANGE), curve(qGrid, qLalTop, BLUE)]);
drawPanel(0, 2, 2, [curve(alphaGrid, alphaDingoTop, ORANGE), curve(alphaGrid, alphaLalTop, BLUE)]);
drawPanel(0, 3, 3, [curve(deltaGrid, deltaDingoTop, ORANGE), curve(deltaGrid, deltaLalTop, BLUE)]);

drawPanel(0, 1, 0, contours([[mcqGold, 'gold'], [mcqBrown, 'brown'], [mcqBlueOut, 'blueOut'], [mcqBlueIn, 'blueIn']]));
drawPanel(0, 2, 0, contours([[mcaGold, 'gold'], [mcaBrownUp, 'brown'], [mcaBrownLow, 'brown'], [mcaBlueOut, 'blueOut'], [mcaBlueInUp, 'blueIn'], [mcaBlueInLow, 'blueIn']]));
drawPanel(0, 3, 0, contours([[mcdGold, 'gold'], [mcdBrown, 'brown'], [mcdBlueOut, 'blueOut'], [mcdBlueIn, 'blueIn']]));
drawPanel(0, 2, 1, contours([[qaGoldUp, 'gold'], [qaGoldLow, 'gold'], [qaBrownUp, 'brown'], [qaBrownLow, 'brown'], [qaBlueOutUp, 'blueOut'], [qaBlueOutLow, 'blueOut'], [qaBlueInUp, 'blueIn'], [qaBlueInLow, 'blueIn']]));
drawPanel(0, 3, 1, contours([[qdGold, 'gold'], [qdBrown, 'brown'], [qdBlueOut, 'blueOut'], [qdBlueIn, 'blueIn']]));
drawPanel(0, 3, 2, contours([[adGoldUp, 'gold'], [adGoldLow, 'gold'], [adBrownUp, 'brown'], [adBrownLow, 'brown'], [adBlueOutUp, 'blueOut'], [adBlueOutLow, 'blueOut'], [adBlueInUp, 'blueIn'], [adBlueInLow, 'blueIn']]));

// ---- bottom figure ----
drawPanel(1, 0, 0, [curve(mcGrid, mcSeobBot, DARK, true), curve(mcGrid, mcDingoBot, ORANGE), curve(mcGrid, mcLalBot, BLUE)]);
drawPanel(1, 1, 1, [curve(qGrid, qSeobBot, DARK, true), curve(qGrid, qDingoBot, ORANGE), curve(qGrid, qLalBot, BLUE)]);
drawPanel(1, 2, 2, [curve(alphaGrid, alphaSeobBot, DARK, true), curve(alphaGrid, alphaDingoBot, ORANGE), curve(alphaGrid, alphaLalBot, BLUE)]);
drawPanel(1, 3, 3, [curve(deltaGrid, deltaSeobBot, DARK, true), curve(deltaGrid, deltaDingoBot, ORANGE), curve(deltaGrid, deltaLalBot, BLUE)]);

drawPanel(1, 1, 0, contours([[mcqGoldB, 'gold'], [mcqBrownB, 'brown'], [mcqBlueOutB, 'blueOut'], [mcqBlueInB, 'blueIn'], [mcqSeobOutB, 'seobOut'], [mcqSeobInB, 'seobIn']]));
drawPanel(1, 2, 0, contours([[mcaGoldB, 'gold'], [mcaBrownUpB, 'brown'], [mcaBrownLowB, 'brown'], [mcaBlueOutB, 'blueOut'], [mcaBlueInUpB, 'blueIn'], [mcaBlueInLowB, 'blueIn'], [mcaSeobOutB, 'seobOut'], [mcaSeobInUpB, 'seobIn'], [mcaSeobInLowB, 'seobIn']]));
drawPanel(1, 3, 0, contours([[mcdGoldB, 'gold'], [mcdBrownB, 'brown'], [mcdBlueOutB, 'blueOut'], [mcdBlueInB, 'blueIn'], [mcdSeobOutB, 'seobOut'], [mcdSeobInB, 'seobIn']]));
drawPanel(1, 2, 1, contours([[qaGoldUpB, 'gold'], [qaGoldLowB, 'gold'], [qaGoldIslandB, 'gold'], [qaBrownUpB, 'brown'], [qaBrownLowB, 'brown'], [qaBlueOutUpB, 'blueOut'], [qaBlueOutLowB, 'blueOut'], [qaBlueInUpB, 'blueIn'], [qaBlueInLowB, 'blueIn'], [qaSeobOutUpB, 'seobOut'], [qaSeobOutLowB, 'seobOut'], [qaSeobInUpB, 'seobIn'], [qaSeobInLowB, 'seobIn']]));
drawPanel(1, 3, 1, contours([[qdGoldB, 'gold'], [qdBrownB, 'brown'], [qdBlueOutB, 'blueOut'], [qdBlueInB, 'blueIn'], [qdSeobOutB, 'seobOut'], [qdSeobInB, 'seobIn']]));
drawPanel(1, 3, 2, contours([[adGoldUp, 'gold'], [adGoldLow, 'gold'], [adBrownUp, 'brown'], [adBrownLow, 'brown'], [adBlueOutUp, 'blueOut'], [adBlueOutLow, 'blueOut'], [adBlueInUp, 'blueIn'], [adBlueInLow, 'blueIn'], [adSeobOutUpB, 'seobOut'], [adSeobOutLowB, 'seobOut'], [adSeobInUpB, 'seobIn'], [adSeobInLowB, 'seobIn']]));

// ---- axis titles and legends (HTML text) ----
function addHtml(html) { document.body.insertAdjacentHTML('beforeend', html); }
FIG_SHIFT.forEach((dy, fig) => {
  addHtml(`<div class="lab hc" style="left:150px;top:${606 + dy}px"><i>M</i><sub>c</sub> [M<sub>\u2299</sub>]</div>`);
  addHtml(`<div class="lab hc" style="left:290px;top:${612 + dy}px"><i>q</i></div>`);
  addHtml(`<div class="lab hc" style="left:431px;top:${600 + dy}px"><i>\u03b1</i></div>`);
  addHtml(`<div class="lab hc" style="left:571px;top:${614 + dy}px"><i>\u03b4</i></div>`);
  addHtml(`<div class="lab rot" style="left:23px;top:${221 + dy}px"><i>q</i></div>`);
  addHtml(`<div class="lab rot" style="left:37px;top:${362 + dy}px"><i>\u03b1</i></div>`);
  addHtml(`<div class="lab rot" style="left:18px;top:${497 + dy}px"><i>\u03b4</i></div>`);
});

addHtml(`<div class="patch" style="top:23px;height:10px;background:${BLUE}"></div>`);
addHtml(`<div class="leg" style="top:14px;color:${BLUE}"><span class="sc">LALInference</span> (IMRPhenomXPHM)</div>`);
addHtml(`<div class="patch" style="top:55px;height:9px;background:${ORANGE}"></div>`);
addHtml(`<div class="leg" style="top:46px;color:${ORANGE}"><span class="sc">Dingo</span> (IMRPhenomXPHM)</div>`);

addHtml(`<div class="patch" style="top:667px;height:8px;background:${BLUE}"></div>`);
addHtml(`<div class="leg" style="top:656px;color:${BLUE}"><span class="sc">LALInference</span> (IMRPhenomXPHM)</div>`);
addHtml(`<div class="patch" style="top:693px;height:8px;background:${ORANGE}"></div>`);
addHtml(`<div class="leg" style="top:683px;color:${ORANGE}"><span class="sc">Dingo</span>-IS (IMRPhenomXPHM)</div>`);
addHtml(`<div class="patch" style="top:718px;height:8px;background:${DARK}"></div>`);
addHtml(`<div class="leg" style="top:709px;color:${DARK}"><span class="sc">Dingo</span>-IS (SEOBNRv4PHM)</div>`);
</script>
</body>
</html>
